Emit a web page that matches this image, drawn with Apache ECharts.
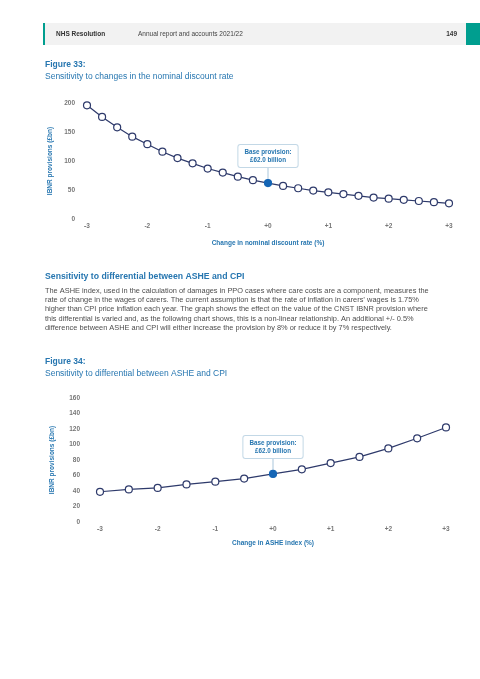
<!DOCTYPE html>
<html><head><meta charset="utf-8">
<script src="https://cdn.jsdelivr.net/npm/echarts@6/dist/echarts.min.js"></script>
<style>html,body{margin:0;padding:0;background:#fff}#c{width:480px;height:679px}</style>
</head><body><div id="c"></div>
<script>
// ---- data ----
const discountX = [-3,-2.75,-2.5,-2.25,-2,-1.75,-1.5,-1.25,-1,-0.75,-0.5,-0.25,0,0.25,0.5,0.75,1,1.25,1.5,1.75,2,2.25,2.5,2.75,3];
const discountValues = [196,176,158,142,129,116,105,96,87,80,73,67,62,57,53,49,46,43,40,37,35,33,31,29,27];
const asheX = [-3,-2.5,-2,-1.5,-1,-0.5,0,0.5,1,1.5,2,2.5,3];
const asheValues = [39,42,44,48.5,52,56,62,68,76,84,95,108,122];
const xTickLabels = ['-3','-2','-1','+0','+1','+2','+3'];
const baseX = 0;
const baseLabel = 'Base provision:\n£62.0 billion';
const paragraph = [
 'The ASHE index, used in the calculation of damages in PPO cases where care costs are a component, measures the',
 'rate of change in the wages of carers. The current assumption is that the rate of inflation in carers\u2019 wages is 1.75%',
 'higher than CPI price inflation each year. The graph shows the effect on the value of the CNST IBNR provision where',
 'this differential is varied and, as the following chart shows, this is a non-linear relationship. An additional +/- 0.5%',
 'difference between ASHE and CPI will either increase the provision by 8% or reduce it by 7% respectively.'
];

const FONT = '"Liberation Sans", Arial, sans-serif';
const BLUE = '#2676b0';
const NAVY = '#2e3a6b';
const BASEC = '#1565b5';

function mkData(xs, ys){
  return xs.map((x,i)=>{
    const d = {value:[x, ys[i]]};
    if (x === baseX) d.itemStyle = {color: BASEC, borderColor: BASEC};
    return d;
  });
}
function xAxisCfg(gi, name, gap){
  return {type:'value', gridIndex:gi, min:-3, max:3, interval:1,
    axisLine:{show:false}, axisTick:{show:false}, splitLine:{show:false},
    axisLabel:{formatter:v=>xTickLabels[Math.round(v)+3], color:'#777', fontSize:6.5, fontWeight:'bold', fontFamily:FONT, margin:4},
    name:name, nameLocation:'middle', nameGap:gap,
    nameTextStyle:{color:BLUE, fontSize:6.5, fontWeight:'bold', fontFamily:FONT}};
}
function yAxisCfg(gi, max, interval, gap, margin){
  return {type:'value', gridIndex:gi, min:0, max:max, interval:interval,
    axisLine:{show:false}, axisTick:{show:false}, splitLine:{show:false},
    axisLabel:{color:'#777', fontSize:6.5, fontWeight:'bold', fontFamily:FONT, margin:margin},
    name:'IBNR provisions (£bn)', nameLocation:'middle', nameGap:gap, nameRotate:90,
    nameTextStyle:{color:BLUE, fontSize:6.5, fontWeight:'bold', fontFamily:FONT}};
}
function lineSeries(xi, xs, ys){
  return {type:'line', xAxisIndex:xi, yAxisIndex:xi, data:mkData(xs, ys),
    symbol:'circle', symbolSize:7, lineStyle:{color:NAVY, width:1.2},
    itemStyle:{color:'#fff', borderColor:NAVY, borderWidth:1.2}, z:3};
}

const staticGraphics = [
  {type:'rect', shape:{x:43, y:23, width:423, height:22}, style:{fill:'#f2f2f2'}},
  {type:'rect', shape:{x:43, y:23, width:2, height:22}, style:{fill:'#009e8f'}},
  {type:'rect', shape:{x:466, y:23, width:14, height:22}, style:{fill:'#009e8f'}},
  {type:'text', style:{text:'NHS Resolution', x:56, y:34, fill:'#333', font:'bold 6.5px '+FONT, verticalAlign:'middle'}},
  {type:'text', style:{text:'Annual report and accounts 2021/22', x:138, y:34, fill:'#444', font:'6.5px '+FONT, verticalAlign:'middle'}},
  {type:'text', style:{text:'149', x:457, y:34, fill:'#333', font:'bold 6.5px '+FONT, align:'right', verticalAlign:'middle'}},
  {type:'text', style:{text:'Figure 33:', x:45, y:65, fill:BLUE, font:'bold 8.5px '+FONT, verticalAlign:'middle'}},
  {type:'text', style:{text:'Sensitivity to changes in the nominal discount rate', x:45, y:77, fill:BLUE, font:'8.5px '+FONT, verticalAlign:'middle'}},
  {type:'text', style:{text:'Sensitivity to differential between ASHE and CPI', x:45, y:276.5, fill:BLUE, font:'bold 8.7px '+FONT, verticalAlign:'middle'}},
  {type:'text', style:{text:'Figure 34:', x:45, y:362, fill:BLUE, font:'bold 8.5px '+FONT, verticalAlign:'middle'}},
  {type:'text', style:{text:'Sensitivity to differential between ASHE and CPI', x:45, y:374, fill:BLUE, font:'8.5px '+FONT, verticalAlign:'middle'}}
];
paragraph.forEach((t,i)=>{
  staticGraphics.push({type:'text', style:{text:t, x:45, y:291+i*9.2, fill:'#4d4d4d', font:'7.4px '+FONT, verticalAlign:'middle'}});
});

const chart = echarts.init(document.getElementById('c'), null, {renderer:'canvas'});
const option = {
  backgroundColor:'#fff',
  animation:false,
  grid:[
    {left:87, right:31, top:103, bottom:460},
    {left:100, right:34, top:398, bottom:157}
  ],
  xAxis:[xAxisCfg(0,'Change in nominal discount rate (%)',21), xAxisCfg(1,'Change in ASHE index (%)',18)],
  yAxis:[yAxisCfg(0,200,50,31,12), yAxisCfg(1,160,20,44,20)],
  series:[lineSeries(0, discountX, discountValues), lineSeries(1, asheX, asheValues)],
  graphic:staticGraphics
};
chart.setOption(option);

// annotations positioned via library scales
function annot(si, xs, ys){
  const idx = xs.indexOf(baseX);
  const p = chart.convertToPixel({seriesIndex:si}, [baseX, ys[idx]]);
  return [
    {type:'line', shape:{x1:p[0], y1:p[1]-3, x2:p[0], y2:p[1]-16}, style:{stroke:'#a9c6db', lineWidth:1}, z:2},
    {type:'text', z:5, style:{text:baseLabel, x:p[0], y:p[1]-16, align:'center', verticalAlign:'bottom',
      fill:BLUE, font:'bold 6.3px '+FONT, lineHeight:8, backgroundColor:'#fff', borderColor:'#c3d8e6', borderWidth:1,
      borderRadius:2, padding:[3,6,3,6]}}
  ];
}
chart.setOption({graphic: staticGraphics.concat(annot(0, discountX, discountValues), annot(1, asheX, asheValues))});
</script></body></html>
